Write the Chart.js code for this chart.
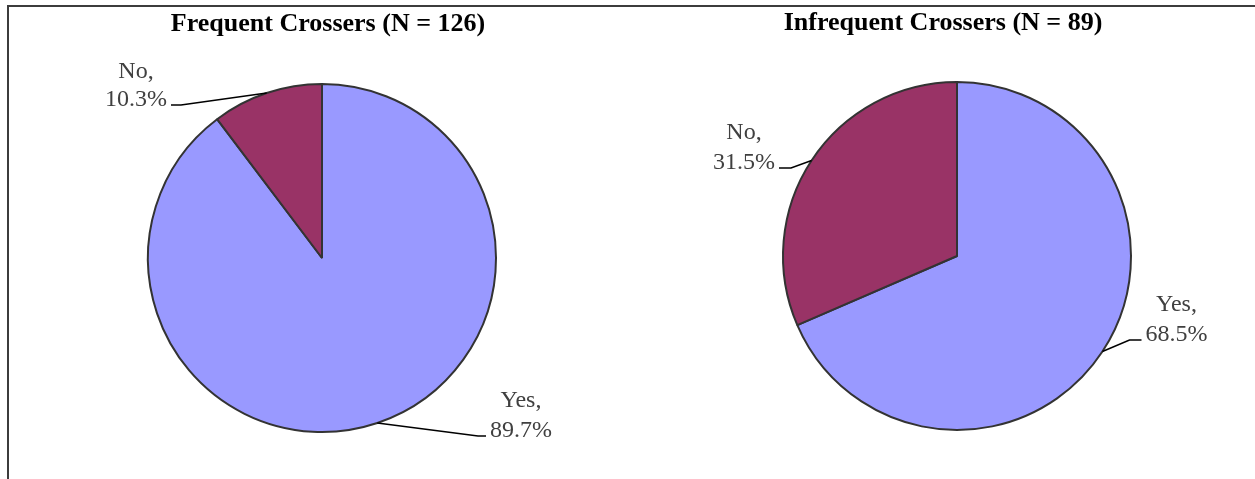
<!DOCTYPE html>
<html>
<head>
<meta charset="utf-8">
<script src="https://cdn.jsdelivr.net/npm/chart.js@4/dist/chart.umd.min.js"></script>
<style>
  html, body { margin: 0; padding: 0; background: #fff; overflow: hidden; width: 1255px; height: 479px; }
  #frame { position: absolute; left: 7px; top: 5px; width: 1400px; height: 700px; border-left: 2px solid #3c3c3c; border-top: 2px solid #3c3c3c; box-sizing: border-box; }
  canvas { position: absolute; top: 0; }
  #c1 { left: 0; }
  #c2 { left: 630px; }
</style>
</head>
<body>
<div id="frame"></div>
<canvas id="c1" width="640" height="479"></canvas>
<canvas id="c2" width="625" height="479"></canvas>
<script>
// ---- data ----
const categories = ['Yes', 'No'];
const frequentValues = [89.7, 10.3];
const infrequentValues = [68.5, 31.5];
const chartTitles = ['Frequent Crossers (N = 126)', 'Infrequent Crossers (N = 89)'];
const sliceColors = ['#9999FF', '#993366'];

const FONT = '"Liberation Serif", "Times New Roman", serif';

const labelPlugin = {
  id: 'pieLabels',
  afterDraw(chart, args, opts) {
    const ctx = chart.ctx;
    const meta = chart.getDatasetMeta(0);
    const ds = chart.data.datasets[0];
    const arc0 = meta.data[0];
    const cx = arc0.x, cy = arc0.y;
    ctx.save();
    // title
    ctx.fillStyle = '#000';
    ctx.font = 'bold 26px ' + FONT;
    ctx.textAlign = 'center';
    ctx.textBaseline = 'alphabetic';
    ctx.fillText(opts.title, cx + opts.titleDx, opts.titleY);
    // labels
    ctx.font = '24px ' + FONT;
    meta.data.forEach((arc, i) => {
      const p = opts.labels[i];
      const lx = cx + p.dx, ly = cy + p.dy;
      const l1 = chart.data.labels[i] + ',';
      const l2 = ds.data[i].toFixed(1) + '%';
      ctx.fillStyle = '#404040';
      ctx.textAlign = 'center';
      ctx.fillText(l1, lx, ly);
      ctx.fillText(l2, lx, ly + p.gap);
      // leader line
      const w2 = ctx.measureText(l2).width;
      const mid = (arc.startAngle + arc.endAngle) / 2;
      const ex = arc.x + arc.outerRadius * Math.cos(mid);
      const ey = arc.y + arc.outerRadius * Math.sin(mid);
      const side = p.dx < 0 ? 1 : -1;
      const sx = lx + side * (w2 / 2 + 4);
      const sy = ly + p.gap - 1;
      const kx = sx + side * p.tail;
      ctx.strokeStyle = '#000';
      ctx.lineWidth = 1.5;
      ctx.beginPath();
      ctx.moveTo(sx, sy);
      ctx.lineTo(kx, sy);
      ctx.lineTo(ex, ey);
      ctx.stroke();
    });
    ctx.restore();
  }
};

function makePie(id, values, title, padding, pluginOpts) {
  return new Chart(document.getElementById(id), {
    type: 'pie',
    data: {
      labels: categories,
      datasets: [{
        data: values,
        backgroundColor: sliceColors,
        borderColor: '#333333',
        borderWidth: 2,
        hoverOffset: 0
      }]
    },
    options: {
      responsive: false,
      animation: false,
      events: [],
      layout: { padding: padding },
      plugins: {
        legend: { display: false },
        tooltip: { enabled: false },
        title: { display: false },
        pieLabels: Object.assign({ title: title }, pluginOpts)
      }
    },
    plugins: [labelPlugin]
  });
}

makePie('c1', frequentValues, chartTitles[0],
  { left: 147, top: 83, right: 143, bottom: 46 },
  { titleDx: 6, titleY: 31,
    labels: [ { dx: 199, dy: 149, gap: 30, tail: 8 },
              { dx: -186, dy: -180, gap: 28, tail: 10 } ] });

makePie('c2', infrequentValues, chartTitles[1],
  { left: 152, top: 81, right: 123, bottom: 48 },
  { titleDx: -14, titleY: 30,
    labels: [ { dx: 219.5, dy: 55, gap: 30, tail: 12 },
              { dx: -213, dy: -117, gap: 30, tail: 12 } ] });
</script>
</body>
</html>
